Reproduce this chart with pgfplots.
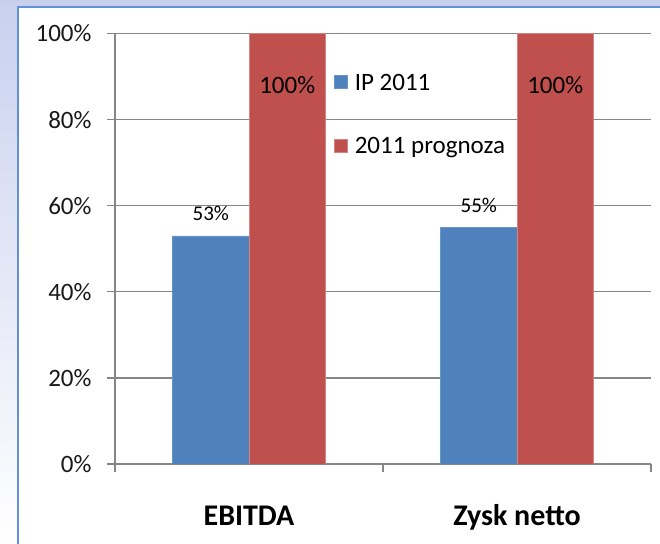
\documentclass[border=0pt]{standalone}
\usepackage{pgfplots}
\pgfplotsset{compat=1.18}
\usepackage{fontspec}
\setmainfont{Carlito}
\definecolor{ipblue}{RGB}{79,129,189}
\definecolor{prred}{RGB}{192,80,77}
\definecolor{gridgray}{RGB}{134,134,134}
\definecolor{bgblue}{RGB}{200,208,238}
\definecolor{panelblue}{RGB}{96,146,216}
\begin{document}
\begin{tikzpicture}[x=1bp,y=1bp]
\path[use as bounding box] (0,0) rectangle (660,544);
\shade[top color=bgblue, bottom color=white] (0,0) rectangle (660,544);
\draw[panelblue, line width=1.2bp, fill=white] (18,-10) rectangle (680,537);
\begin{axis}[
  at={(115bp,80bp)}, anchor=south west,
  scale only axis, width=536bp, height=430.5bp,
  ybar=0pt, bar width=76.5bp,
  xmin=0.5, xmax=2.5, ymin=0, ymax=100,
  enlarge x limits=false, enlarge y limits=false,
  axis x line*=bottom, axis y line*=left,
  axis line style={gridgray, line width=1.3bp, -},
  xtick={0.5,1.5,2.5}, xticklabels={},
  extra x ticks={1,2}, extra x tick labels={EBITDA,Zysk netto},
  extra x tick style={major tick length=0pt,
    xticklabel style={font=\fontsize{30bp}{34bp}\selectfont\bfseries, text height=20bp, text depth=6bp, yshift=-38bp}},
  ytick={0,20,...,100},
  yticklabel={\pgfmathprintnumber{\tick}\%},
  yticklabel style={font=\fontsize{25bp}{29bp}\selectfont, text=black!90, xshift=-12bp},
  /pgf/number format/assume math mode=true,
  ymajorgrids, grid style={gridgray, line width=1.3bp},
  tick align=outside, major tick length=8bp,
  tick style={gridgray, line width=1.3bp},
  legend style={at={(0.4086,0.9066)}, anchor=north west, draw=none, fill=none,
    font=\fontsize{25bp}{29bp}\selectfont, row sep=46bp, inner sep=0pt, column sep=7bp,
    nodes={inner sep=0pt}},
  legend cell align=left,
  legend image code/.code={\fill[#1] (0bp,-6bp) rectangle (13bp,7bp);},
]
\addplot[fill=ipblue, draw=ipblue!85!white, line width=0.6bp,
  nodes near coords={\pgfmathprintnumber{\pgfplotspointmeta}\%},
  every node near coord/.append style={font=\fontsize{21bp}{24bp}\selectfont, text=black, anchor=base, yshift=15bp}]
  coordinates {(1,53) (2,55)};
\addplot[fill=prred, draw=prred!70!white, line width=0.6bp,
  nodes near coords={\pgfmathprintnumber{\pgfplotspointmeta}\%},
  every node near coord/.append style={font=\fontsize{25bp}{29bp}\selectfont, text=black, anchor=base, yshift=-60bp}]
  coordinates {(1,100) (2,100)};
\legend{IP 2011, 2011 prognoza}
\end{axis}
\end{tikzpicture}
\end{document}
